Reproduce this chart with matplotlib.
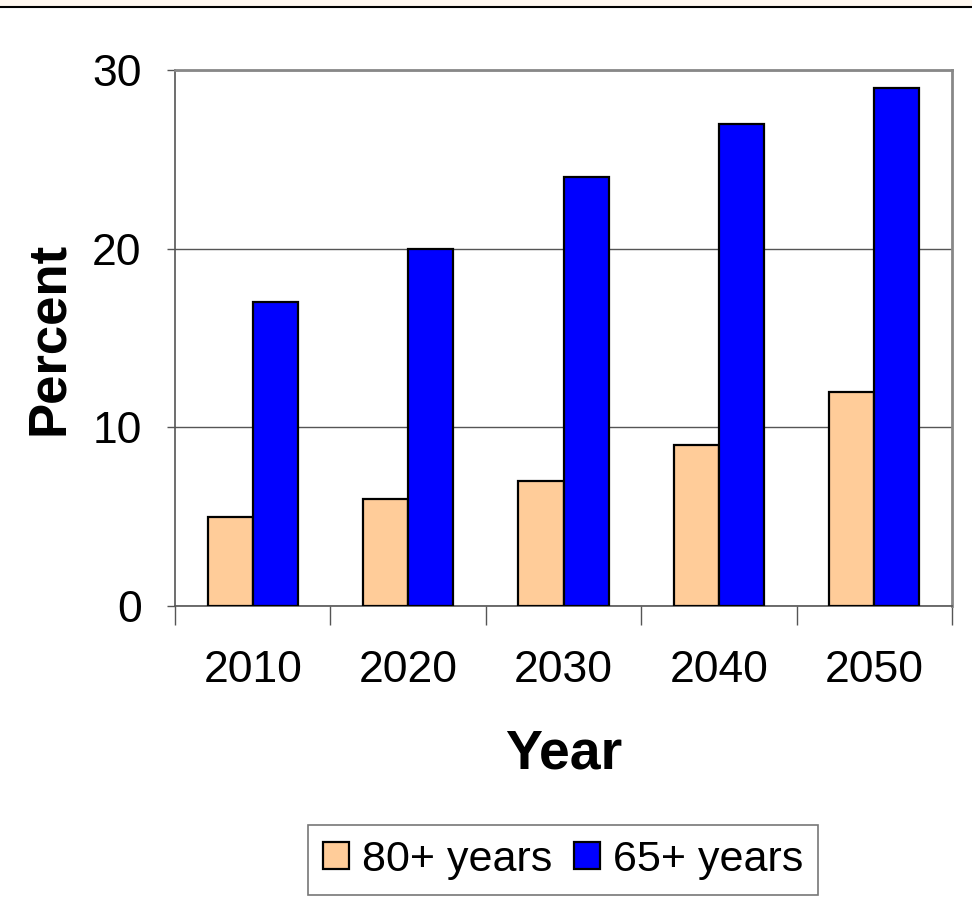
import matplotlib.pyplot as plt
import numpy as np
from matplotlib.patches import Rectangle
from matplotlib.lines import Line2D

years = ["2010", "2020", "2030", "2040", "2050"]
pct_80 = [5, 6, 7, 9, 12]
pct_65 = [17, 20, 24, 27, 29]
labels = ["80+ years", "65+ years"]

plt.rcParams['font.family'] = ['Liberation Sans', 'DejaVu Sans']

fig = plt.figure(figsize=(9.72, 9.02), dpi=100)
# strip at the very top
fig.patches.append(Rectangle((0, 1 - 6/902), 1, 6/902, transform=fig.transFigure,
                             facecolor='#fff8f0', edgecolor='none'))
fig.lines.append(Line2D([0, 1], [1 - 7/902, 1 - 7/902], transform=fig.transFigure,
                        color='black', lw=1.5))

ax = fig.add_axes([175/972, 1 - 606/902, (952-175)/972, (606-70)/902])

x = np.arange(len(years))
w = 0.29
ax.bar(x - w/2, pct_80, w, color='#ffcc99', edgecolor='black', lw=1.6, label=labels[0], zorder=3)
ax.bar(x + w/2, pct_65, w, color='#0000ff', edgecolor='black', lw=1.6, label=labels[1], zorder=3)

ax.set_xlim(-0.5, len(years) - 0.5)
ax.set_ylim(0, 30)
ax.set_yticks([0, 10, 20, 30])
ax.yaxis.grid(True, color='#555555', lw=1, zorder=0)

ax.set_xticks(x)
ax.set_xticklabels(years)
ax.set_xticks(np.arange(-0.5, len(years), 1), minor=True)
ax.tick_params(axis='x', which='major', length=0, pad=32, labelsize=32)
ax.tick_params(axis='x', which='minor', length=14, width=1, color='#555555')
ax.tick_params(axis='y', length=6, width=1, color='#555555', labelsize=32, pad=18)

for s in ['top', 'right']:
    ax.spines[s].set_color('#888888')
    ax.spines[s].set_linewidth(2)
for s in ['left', 'bottom']:
    ax.spines[s].set_color('#555555')
    ax.spines[s].set_linewidth(1.2)

ax.set_ylabel("Percent", fontsize=38, fontweight='bold', labelpad=13)
ax.set_xlabel("Year", fontsize=40, fontweight='bold', labelpad=27)

leg = fig.legend(loc='center', bbox_to_anchor=(563/972, 1 - 860/902), ncol=2,
                 fontsize=31, frameon=True, fancybox=False, edgecolor='#555555',
                 handlelength=0.6, handleheight=0.6, handletextpad=0.3, columnspacing=0.5,
                 borderpad=0.35)
leg.get_frame().set_linewidth(1.2)

fig.savefig('out.png', dpi=100)
